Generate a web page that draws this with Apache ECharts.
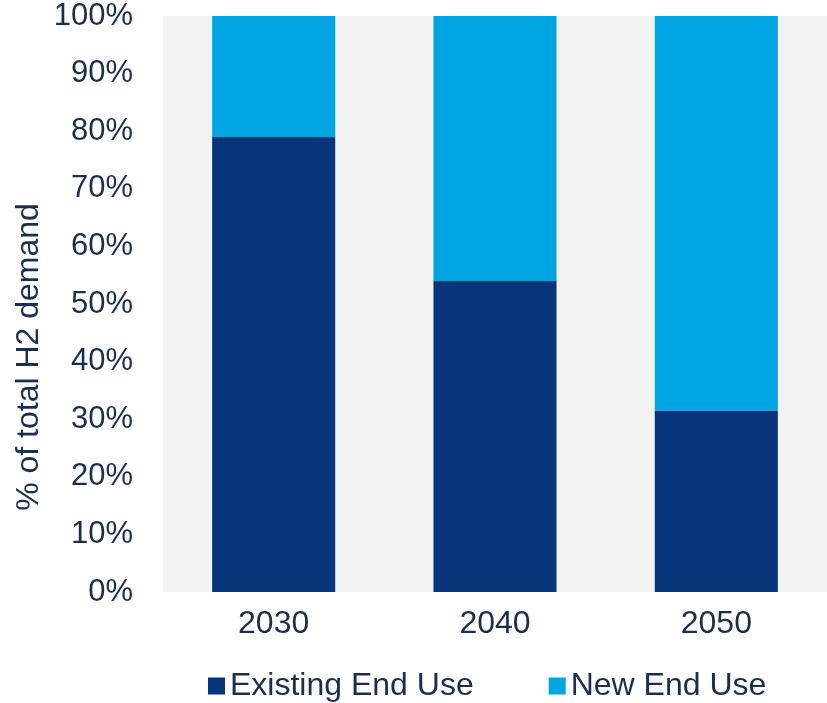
<!DOCTYPE html>
<html>
<head>
<meta charset="utf-8">
<script src="https://cdn.jsdelivr.net/npm/echarts@6/dist/echarts.min.js"></script>
<style>
  html, body { margin: 0; padding: 0; background: #ffffff; }
  #chart { width: 827px; height: 703px; }
</style>
</head>
<body>
<div id="chart"></div>
<script>
// Share of total H2 demand by end-use type
const years = ['2030', '2040', '2050'];
const existingEndUse = [79, 54, 31.5];
const newEndUse = [21, 46, 68.5];
const seriesNames = ['Existing End Use', 'New End Use'];
const yTicks = [0, 10, 20, 30, 40, 50, 60, 70, 80, 90, 100];

const textColor = '#1a2e4f';
const fontFamily = '"Liberation Sans", Arial, sans-serif';

const chart = echarts.init(document.getElementById('chart'));
chart.setOption({
  animation: false,
  textStyle: { fontFamily: fontFamily },
  grid: {
    left: 163, right: 0, top: 16, bottom: 111,
    show: true, backgroundColor: '#f2f2f2', borderWidth: 0
  },
  legend: {
    data: seriesNames,
    left: 208, top: 670,
    padding: 0,
    icon: 'rect',
    itemWidth: 17, itemHeight: 17,
    itemGap: 75,
    textStyle: { color: textColor, fontSize: 32, lineHeight: 32, fontFamily: fontFamily }
  },
  xAxis: {
    type: 'category',
    data: years,
    axisLine: { show: false },
    axisTick: { show: false },
    axisLabel: { color: textColor, fontSize: 32, margin: 16, fontFamily: fontFamily }
  },
  yAxis: {
    type: 'value',
    min: yTicks[0], max: yTicks[yTicks.length - 1], interval: 10,
    axisLine: { show: false },
    axisTick: { show: false },
    splitLine: { show: false },
    axisLabel: { color: textColor, fontSize: 31, margin: 30, fontFamily: fontFamily, formatter: '{value}%' }
  },
  graphic: [{
    type: 'text',
    x: 29, y: 357,
    rotation: Math.PI / 2,
    style: {
      text: '% of total H2 demand',
      fill: textColor,
      font: '32px ' + fontFamily,
      textAlign: 'center',
      textVerticalAlign: 'middle'
    }
  }],
  series: [
    {
      name: seriesNames[0], type: 'bar', stack: 'total',
      data: existingEndUse, barWidth: '55.6%',
      itemStyle: { color: '#063579' }
    },
    {
      name: seriesNames[1], type: 'bar', stack: 'total',
      data: newEndUse, barWidth: '55.6%',
      itemStyle: { color: '#00a5e2' }
    }
  ]
});
</script>
</body>
</html>
